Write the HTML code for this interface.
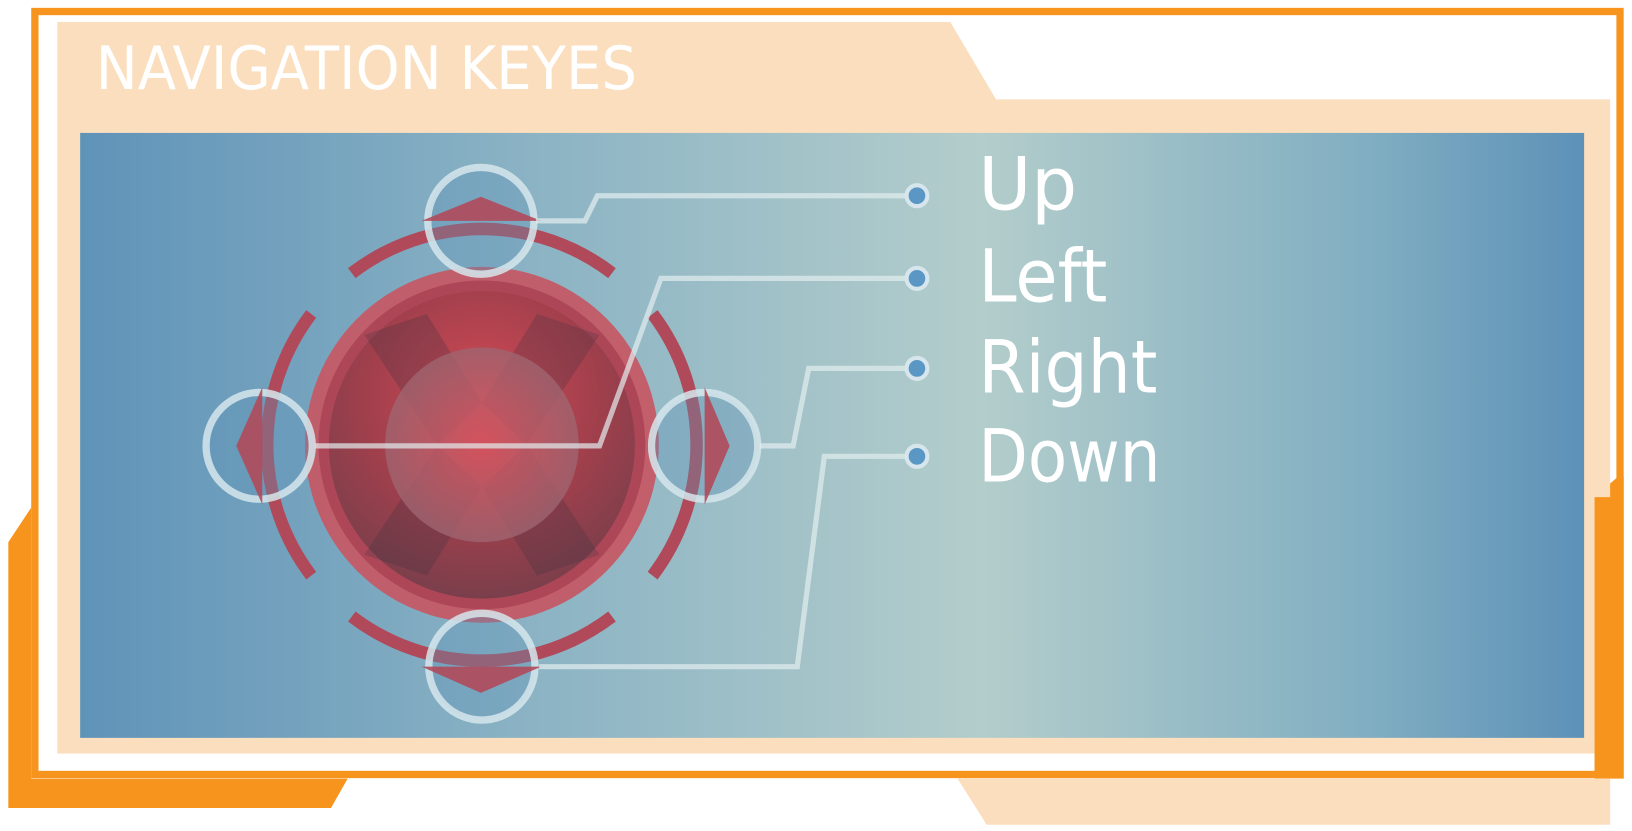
<!DOCTYPE html>
<html><head><meta charset="utf-8"><style>
html,body{margin:0;padding:0;background:#fff;overflow:hidden}
svg{display:block}
text{font-family:"DejaVu Sans","Liberation Sans",sans-serif;fill:#fff}
</style></head><body>
<svg width="1632" height="831" viewBox="0 0 1568 794" preserveAspectRatio="none">
<defs>
<linearGradient id="bg" x1="0" x2="1" y1="0" y2="0">
<stop offset="0" stop-color="#5f93b8"/><stop offset="0.3" stop-color="#8bb3c4"/><stop offset="0.6" stop-color="#b3cdcb"/><stop offset="0.85" stop-color="#82afc2"/><stop offset="1" stop-color="#5d91b7"/>
</linearGradient>
<radialGradient id="core" cx="0.5" cy="0.35" r="0.65">
<stop offset="0" stop-color="#d14a55"/><stop offset="0.6" stop-color="#a03f4c"/><stop offset="1" stop-color="#7a3f4b"/>
</radialGradient>
<radialGradient id="inner" cx="0.5" cy="0.5" r="0.5">
<stop offset="0" stop-color="#d85560"/><stop offset="1" stop-color="#9e6570"/>
</radialGradient>
</defs>
<polygon points="8,518 30,485 30,744 334,744 318,772 8,772" fill="#f7941e"/>
<polygon points="1532,475 1555,455 1560,455 1560,744 1532,744" fill="#f7941e"/>
<polygon points="920,744 1547,744 1547,788 948,788" fill="#fadebe"/>
<rect x="33.5" y="11" width="1523" height="729" fill="none" stroke="#f7941e" stroke-width="7"/>
<polygon points="55,21 913,21 957,95 1547,95 1547,475 1532,475 1532,720 55,720" fill="#fadebe"/>
<text x="92" y="85" font-size="57" textLength="520" lengthAdjust="spacingAndGlyphs">NAVIGATION KEYES</text>
<rect x="77" y="127" width="1445" height="578" fill="url(#bg)"/>
<g>
<circle cx="463" cy="425" r="170" fill="#c45a66" opacity="0.95"/>
<circle cx="463" cy="425" r="157" fill="#ad4758"/>
<circle cx="463" cy="425" r="147" fill="url(#core)"/>
<g opacity="0.25" fill="#3a3040">
<polygon points="350,320 420,425 463,385 410,300"/><polygon points="576,320 506,425 463,385 516,300"/>
<polygon points="350,530 420,425 463,465 410,550"/><polygon points="576,530 506,425 463,465 516,550"/>
</g>
<circle cx="463" cy="425" r="93" fill="url(#inner)" opacity="0.8"/>
</g>
<g fill="none" stroke="#b04a5a" stroke-width="12">
<path d="M338,261 A206,206 0 0 1 588,261"/>
<path d="M338,589 A206,206 0 0 0 588,589"/>
<path d="M299,300 A206,206 0 0 0 299,550"/>
<path d="M627,300 A206,206 0 0 1 627,550"/>
</g>
<g fill="#5f93b8" fill-opacity="0.35" stroke="#d6e6ec" stroke-opacity="0.85" stroke-width="7">
<circle cx="462" cy="211" r="51"/>
<circle cx="249" cy="426" r="51"/>
<circle cx="677" cy="426" r="51"/>
<circle cx="463" cy="637" r="51"/>
</g>
<g fill="#b04a5a" opacity="0.9">
<polygon points="405,211 462,188 520,211"/>
<polygon points="405,637 462,662 520,637"/>
<polygon points="227,426 252,370 252,482"/>
<polygon points="701,426 677,370 677,482"/>
</g>
<g fill="none" stroke="#e3eef0" stroke-opacity="0.7" stroke-width="5">
<polyline points="515,211 562,211 574,187 870,187"/>
<polyline points="303,426 576,426 635,266 870,266"/>
<polyline points="730,426 762,426 777,352 870,352"/>
<polyline points="518,637 766,637 792,436 870,436"/>
</g>
<g fill="#5b97c4" stroke="#d6e6ec" stroke-width="4">
<circle cx="881" cy="187" r="10"/><circle cx="881" cy="266" r="10"/><circle cx="881" cy="352" r="10"/><circle cx="881" cy="436" r="10"/>
</g>
<text x="940" y="200" font-size="70" textLength="95" lengthAdjust="spacingAndGlyphs">Up</text>
<text x="940" y="288" font-size="70" textLength="124" lengthAdjust="spacingAndGlyphs">Left</text>
<text x="940" y="375" font-size="70" textLength="172" lengthAdjust="spacingAndGlyphs">Right</text>
<text x="940" y="460" font-size="70" textLength="175" lengthAdjust="spacingAndGlyphs">Down</text>
</svg>
</body></html>
